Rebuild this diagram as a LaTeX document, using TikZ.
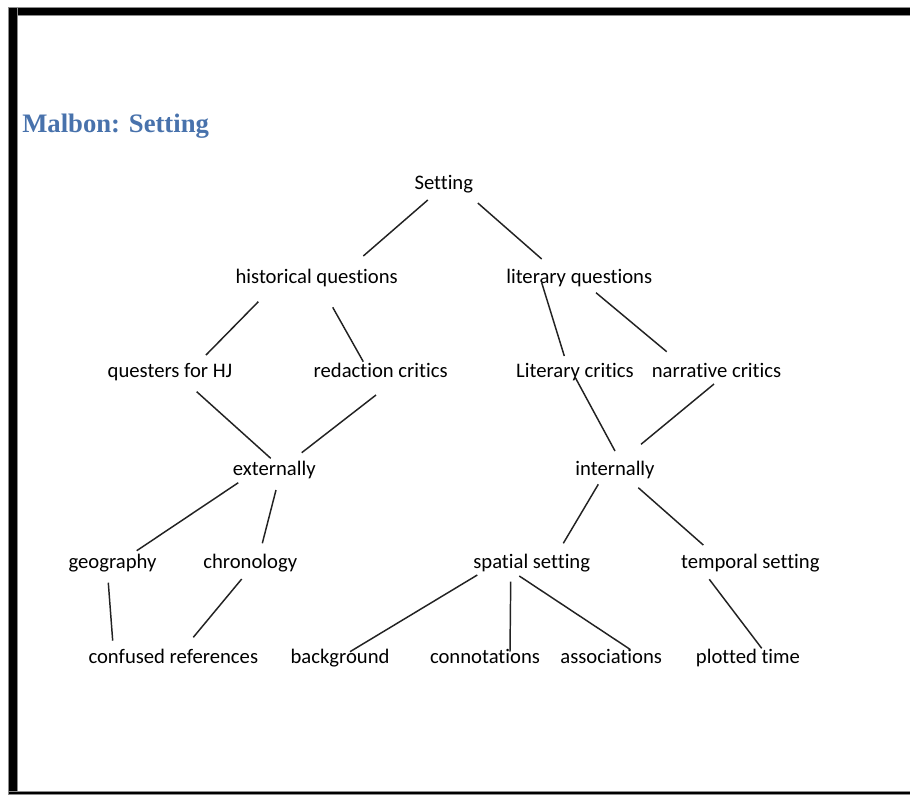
\documentclass[tikz,border=0pt]{standalone}
\usepackage{fontspec}
\setmainfont[RawFeature={-liga}]{Carlito}
\newfontfamily\titlefont{Liberation Serif}
\usetikzlibrary{calc}
\definecolor{headblue}{HTML}{4872AC}
\definecolor{linegray}{HTML}{222222}
\tikzset{
  term/.style={anchor=base, inner sep=0pt, font=\fontsize{15.5}{18}\selectfont, text=black},
  link/.style={draw=linegray, line width=1.1pt},
  frame/.style={fill=black, draw=black!45, line width=0.4pt}
}
\begin{document}
\begin{tikzpicture}[x=0.75pt,y=-0.75pt]
\useasboundingbox (0,0) rectangle (910,794);
\fill[white] (0,0) rectangle (910,794);
% page frame
\path[frame] (8,7) rectangle (910,15.5);
\path[frame] (8,7) rectangle (17,791);
\path[frame] (8,791) rectangle (910,794);
% heading
\node[anchor=base west, inner sep=0pt, text=headblue,
      font=\titlefont\bfseries\fontsize{20}{24}\selectfont] (title) at (22,132) {Malbon: Setting};
% terms
\node[term] (set)  at (443.8,189) {Setting};
\node[term] (hist) at (316.7,283) {historical questions};
\node[term] (lit)  at (579.2,283) {literary questions};
\node[term] (qst)  at (170,377)   {questers for HJ};
\node[term] (red)  at (380.7,377) {redaction critics};
\node[term] (lcr)  at (575,377)   {Literary critics};
\node[term] (nar)  at (716.5,377) {narrative critics};
\node[term] (ext)  at (274.3,475) {externally};
\node[term] (int)  at (615,475)   {internally};
\node[term] (geo)  at (112.5,568) {geography};
\node[term] (chr)  at (250.3,568) {chronology};
\node[term] (spa)  at (531.7,568) {spatial setting};
\node[term] (tem)  at (750.3,568) {temporal setting};
\node[term] (con)  at (173.3,663) {confused references};
\node[term] (bkg)  at (340,663)   {background};
\node[term] (cnn)  at (485,663)   {connotations};
\node[term] (ass)  at (611.2,663) {associations};
\node[term] (plt)  at (748,663)   {plotted time};
% connectors
\draw[link] ($(set.base)+(-16,11)$)   -- ($(hist.base)+(46.6,-27)$);
\draw[link] ($(set.base)+(34,14)$)    -- ($(lit.base)+(-37.5,-24)$);
\draw[link] ($(hist.base)+(-58.4,18.7)$) -- ($(qst.base)+(36,-22)$);
\draw[link] ($(hist.base)+(16,24.3)$) -- ($(red.base)+(-17.4,-15.3)$);
\draw[link] ($(lit.base)+(-37.5,-0.3)$) -- ($(lcr.base)+(-10.7,-21)$);
\draw[link] ($(lit.base)+(16.8,9.7)$) -- ($(nar.base)+(-49.8,-25.3)$);
\draw[link] ($(qst.base)+(26.7,14.7)$) -- ($(ext.base)+(-3.6,-16.7)$);
\draw[link] ($(red.base)+(-4.7,18)$)  -- ($(ext.base)+(27.4,-22.3)$);
\draw[link] ($(lcr.base)+(0,0)$)      -- ($(int.base)+(0,-24)$);
\draw[link] ($(nar.base)+(-2.5,7)$)   -- ($(int.base)+(26,-30.7)$);
\draw[link] ($(ext.base)+(-36,7.7)$)  -- ($(geo.base)+(24.2,-17.3)$);
\draw[link] ($(ext.base)+(1.7,15)$)   -- ($(chr.base)+(12,-24.7)$);
\draw[link] ($(geo.base)+(-4.2,14.7)$) -- ($(con.base)+(-60.6,-22.3)$);
\draw[link] ($(chr.base)+(-8.6,11)$)  -- ($(con.base)+(20,-25.7)$);
\draw[link] ($(int.base)+(-16.7,9.3)$) -- ($(spa.base)+(31.6,-24.7)$);
\draw[link] ($(int.base)+(23.3,12.7)$) -- ($(tem.base)+(-47,-23)$);
\draw[link] ($(spa.base)+(-54.4,7)$)  -- ($(bkg.base)+(10,-11.3)$);
\draw[link] ($(spa.base)+(-21,13.7)$) -- ($(cnn.base)+(25,-11.3)$);
\draw[link] ($(spa.base)+(-12.4,8)$)  -- ($(ass.base)+(18.8,-13.7)$);
\draw[link] ($(tem.base)+(-41,11.3)$) -- ($(plt.base)+(13.7,-14.7)$);
\end{tikzpicture}
\end{document}
